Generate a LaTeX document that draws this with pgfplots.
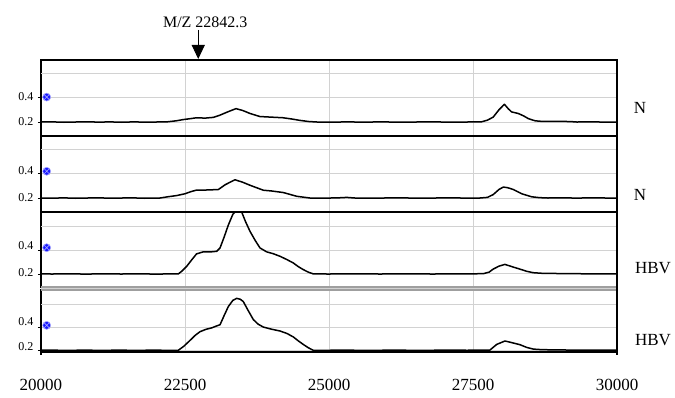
\documentclass[border=0pt]{standalone}
\usepackage{fontspec}
\setmainfont{Liberation Serif}
\usepackage{pgfplots}
\pgfplotsset{compat=1.18}
\usetikzlibrary{arrows.meta}

\pgfplotsset{
  panel/.style={
    scale only axis, width=576pt, xmin=20000, xmax=30000,
    scaled ticks=false, scaled x ticks=false, scaled y ticks=false,
    axis line style={line width=1.1pt, black},
    xtick={22500,25000,27500}, xticklabels={},
    ytick={0.2,0.4},
    extra y ticks={0.6}, extra y tick labels={},
    extra y tick style={grid=major, major tick length=0pt},
    grid=major, major grid style={gray!35, line width=0.8pt},
    tick align=outside, ytick pos=left, xtick pos=bottom,
    major tick length=3pt,
    x tick style={draw=none},
    y tick style={black, line width=0.7pt},
    yticklabel style={font=\fontsize{12}{14}\selectfont, xshift=-1pt},
  },
  sig/.style={black, line width=1.5pt, line join=round, mark=none},
  blue mark/.style={only marks, mark=otimes*, mark size=4pt,
    mark options={draw=blue!35!white, fill=blue!90!white, line width=0.6pt}},
}

\begin{document}
\begin{tikzpicture}[x=1pt,y=1pt]
\useasboundingbox (0,0) rectangle (675,398);

% ---------- Panel 1 ----------
\begin{axis}[panel, name=p1, at={(41pt,338pt)}, anchor=north west,
  height=76pt, ymin=0.085, ymax=0.71,
  yticklabels={\raisebox{0pt}{0.2},\raisebox{3pt}{0.4}}]
\addplot[sig] coordinates {
(20000,0.200)(20200,0.201)(20400,0.198)(20600,0.200)(20800,0.202)(21000,0.199)
(21200,0.201)(21400,0.198)(21600,0.201)(21800,0.199)(22000,0.200)(22200,0.202)
(22350,0.210)(22470,0.220)(22600,0.228)(22700,0.235)(22850,0.232)(22990,0.238)
(23100,0.255)(23250,0.285)(23385,0.310)(23500,0.295)(23630,0.270)(23800,0.245)
(24000,0.240)(24200,0.235)(24350,0.225)(24500,0.213)(24650,0.204)(24790,0.200)
(25000,0.198)(25300,0.201)(25600,0.199)(25900,0.201)(26200,0.199)(26500,0.200)
(26800,0.201)(27100,0.199)(27400,0.200)(27650,0.202)(27750,0.215)(27850,0.240)
(27950,0.300)(28045,0.346)(28110,0.310)(28170,0.283)(28287,0.270)(28380,0.250)
(28460,0.228)(28577,0.210)(28700,0.205)(28900,0.205)(29180,0.204)(29300,0.200)
(29600,0.201)(29800,0.199)(30000,0.200)};
\addplot[blue mark] coordinates {(20099,0.405)};
\coordinate (arr) at (axis cs:22730,0.71);
\end{axis}

% ---------- Panel 2 ----------
\begin{axis}[panel, name=p2, at={(41pt,262pt)}, anchor=north west,
  height=76pt, ymin=0.085, ymax=0.71,
  yticklabels={\raisebox{1pt}{0.2},\raisebox{7pt}{0.4}}]
\addplot[sig] coordinates {
(20000,0.200)(20200,0.199)(20400,0.201)(20600,0.198)(20800,0.200)(21000,0.201)
(21200,0.199)(21400,0.200)(21600,0.201)(21800,0.198)(22066,0.200)(22200,0.210)
(22355,0.220)(22500,0.235)(22600,0.252)(22700,0.265)(22900,0.266)(23080,0.270)
(23200,0.310)(23368,0.350)(23500,0.330)(23628,0.305)(23860,0.264)(24000,0.258)
(24207,0.245)(24440,0.214)(24670,0.200)(24900,0.199)(25150,0.201)(25307,0.205)
(25450,0.200)(25800,0.199)(26100,0.201)(26400,0.200)(26700,0.199)(27000,0.201)
(27300,0.200)(27620,0.200)(27750,0.205)(27850,0.228)(27950,0.270)(28026,0.290)
(28100,0.285)(28200,0.270)(28345,0.235)(28518,0.210)(28650,0.203)(28800,0.200)
(29050,0.202)(29300,0.199)(29550,0.202)(29800,0.200)(30000,0.200)};
\addplot[blue mark] coordinates {(20099,0.42)};
\end{axis}

% ---------- Panel 3 ----------
\begin{axis}[panel, name=p3, at={(41pt,186pt)}, anchor=north west,
  height=75pt, ymin=0.09, ymax=0.72,
  yticklabels={\raisebox{3pt}{0.2},\raisebox{9pt}{0.4}}]
\addplot[sig] coordinates {
(20000,0.200)(20200,0.199)(20400,0.201)(20600,0.200)(20800,0.198)(21000,0.201)
(21200,0.200)(21400,0.199)(21600,0.201)(21800,0.200)(22000,0.198)(22200,0.200)
(22385,0.200)(22450,0.225)(22530,0.264)(22620,0.320)(22700,0.368)(22815,0.385)
(22950,0.385)(23050,0.390)(23108,0.418)(23180,0.510)(23252,0.610)(23330,0.700)
(23368,0.720)(23484,0.720)(23550,0.640)(23628,0.558)(23720,0.480)(23802,0.418)
(23918,0.385)(24030,0.370)(24149,0.348)(24270,0.320)(24380,0.292)(24470,0.260)
(24554,0.236)(24640,0.215)(24727,0.200)(25000,0.199)(25300,0.201)(25600,0.200)
(25900,0.199)(26200,0.201)(26500,0.200)(26800,0.199)(27100,0.200)(27400,0.200)
(27680,0.202)(27780,0.215)(27850,0.240)(27950,0.265)(28055,0.280)(28180,0.260)
(28316,0.240)(28430,0.222)(28547,0.210)(28700,0.205)(29000,0.203)(29300,0.202)
(29500,0.200)(29800,0.201)(30000,0.200)};
\addplot[blue mark] coordinates {(20099,0.42)};
\end{axis}

% ---------- Panel 4 ----------
\begin{axis}[panel, name=p4, at={(41pt,108pt)}, anchor=north west,
  height=62pt, ymin=0.185, ymax=0.72,
  xtick={20000,22500,25000,27500,30000},
  xticklabels={20000,22500,25000,27500,30000},
  xticklabel style={font=\fontsize{17}{20}\selectfont, yshift=-21pt},
  yticklabels={\raisebox{8pt}{0.2},\raisebox{12pt}{0.4}}]
\addplot[sig] coordinates {
(20000,0.200)(20200,0.201)(20400,0.199)(20600,0.200)(20800,0.201)(21000,0.199)
(21200,0.200)(21400,0.201)(21600,0.199)(21800,0.200)(22000,0.201)(22200,0.199)
(22385,0.200)(22480,0.235)(22587,0.285)(22680,0.330)(22760,0.360)(22860,0.380)
(22963,0.393)(23050,0.410)(23108,0.420)(23180,0.500)(23252,0.577)(23330,0.630)
(23397,0.648)(23460,0.640)(23512,0.620)(23600,0.540)(23686,0.465)(23770,0.425)
(23860,0.400)(24000,0.382)(24150,0.366)(24270,0.345)(24380,0.315)(24470,0.280)
(24554,0.250)(24640,0.222)(24727,0.200)(25000,0.200)(25300,0.201)(25600,0.199)
(25900,0.200)(26200,0.201)(26500,0.199)(26800,0.200)(27100,0.201)(27400,0.200)
(27795,0.202)(27910,0.250)(28055,0.280)(28180,0.265)(28316,0.248)(28430,0.225)
(28547,0.210)(28700,0.205)(29000,0.203)(29300,0.201)(29600,0.202)(30000,0.200)};
\addplot[blue mark] coordinates {(20099,0.415)};
\end{axis}

% separators
\draw[black, line width=2.6pt] (p2.south west) -- (p2.south east);
\draw[gray!75, line width=4.5pt] ([yshift=-1.5pt]p3.south west) -- ([yshift=-1.5pt]p3.south east);
\draw[gray!35, line width=1.2pt] ([yshift=-1.5pt]p3.south west) -- ([yshift=-1.5pt]p3.south east);
\draw[black, line width=1.1pt] (p4.south west) -- ++(0,-3pt);
\draw[black, line width=1.6pt] (p4.south east) -- ++(0,-3pt);
\draw[black, line width=1.6pt] (p1.north east) -- (p4.south east);

% annotation
\draw[black, line width=1pt, -{Triangle[width=13pt,length=14pt]}]
  ([yshift=30pt]arr) -- ([yshift=1pt]arr);
\node[font=\fontsize{16}{19}\selectfont, inner sep=0pt] at ([xshift=7pt,yshift=38pt]arr) {M/Z 22842.3};

% side labels
\node[font=\fontsize{17}{20}\selectfont] at (640,290) {N};
\node[font=\fontsize{17}{20}\selectfont] at (640,203) {N};
\node[font=\fontsize{17}{20}\selectfont] at (653,130) {HBV};
\node[font=\fontsize{17}{20}\selectfont] at (653,58) {HBV};
\end{tikzpicture}
\end{document}
